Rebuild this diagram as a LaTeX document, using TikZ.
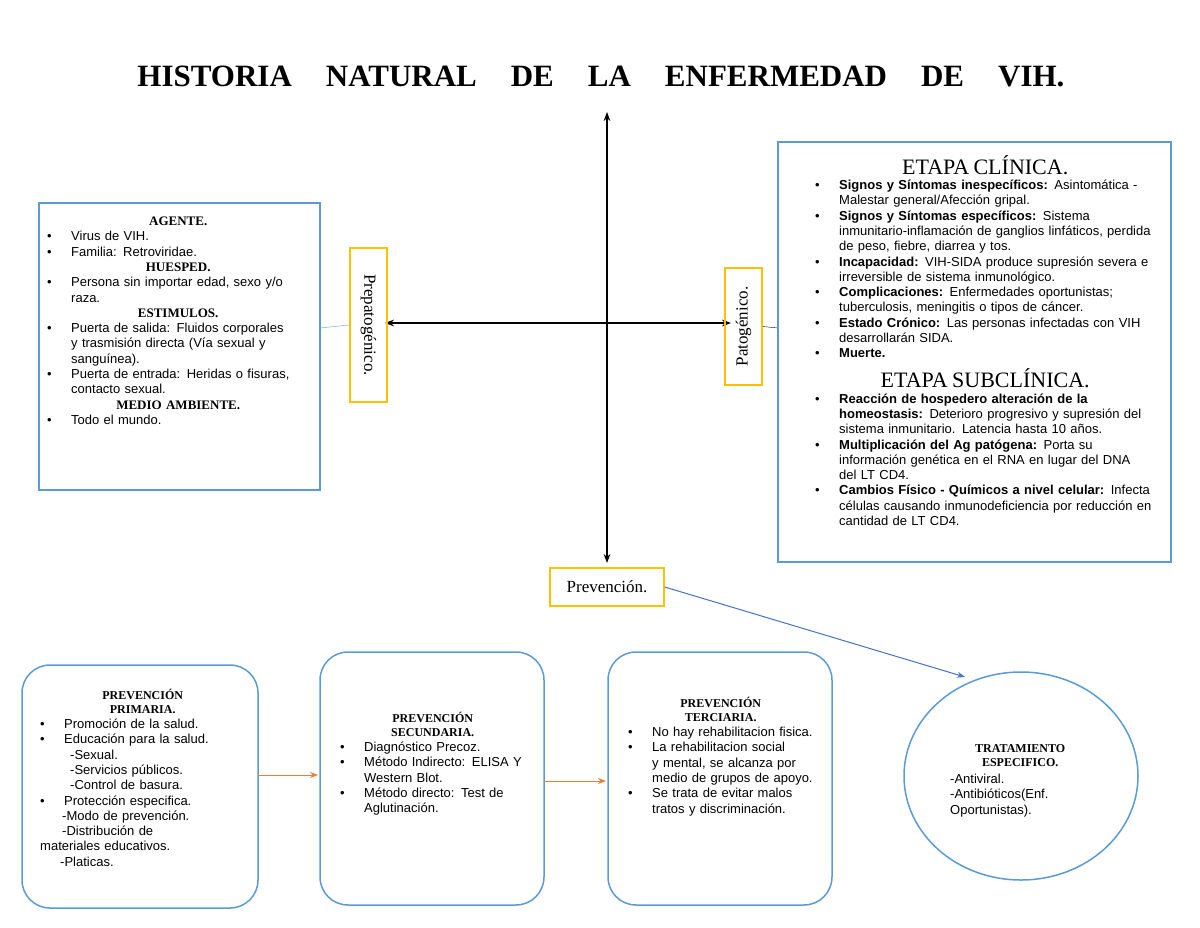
\documentclass[tikz,border=0pt]{standalone}
\usepackage{fontspec}
\setmainfont{Liberation Sans}
\newfontfamily\headfont{Liberation Serif}
\usetikzlibrary{arrows.meta,positioning,shapes.geometric}
\definecolor{boxblue}{RGB}{91,155,213}
\definecolor{boxyellow}{RGB}{255,192,0}
\definecolor{arrblue}{RGB}{68,114,196}
\definecolor{arrorange}{RGB}{237,125,49}
\hyphenpenalty=10000
\newcommand{\bul}[1]{\par\hangindent=24pt\hangafter=1\noindent\makebox[24pt][l]{\textbullet}#1}
\newcommand{\hd}[1]{\par{\centering\headfont\bfseries #1\par}}
\begin{document}
\begin{tikzpicture}[x=1pt,y=-1pt,
  txt/.style={font=\fontsize{13}{15.3}\selectfont,align=left,inner sep=0pt,anchor=north west},
  bluebox/.style={draw=boxblue,line width=1.2pt},
  yelbox/.style={draw=boxyellow,line width=1.5pt,minimum width=37pt,font=\headfont\fontsize{17}{19}\selectfont},
  roundbox/.style={draw=boxblue,line width=1.5pt,rounded corners=28pt}]
\useasboundingbox (0,0) rectangle (1200,927);
% title
\node (title) at (601,76) {\headfont\bfseries\fontsize{31}{33}\selectfont HISTORIA\hspace{34pt}NATURAL\hspace{34pt}DE\hspace{34pt}LA\hspace{34pt}ENFERMEDAD\hspace{34pt}DE\hspace{34pt}VIH.};
% axes
\coordinate (top) at (607,112);
\coordinate (bot) at (607,563);
\coordinate (lft) at (385,323);
\coordinate (rgt) at (731,323);
\draw[{Stealth[length=9pt]}-{Stealth[length=9pt]},line width=1.3pt] (top) -- (bot);
\draw[{Stealth[length=9pt]}-{Stealth[length=9pt]},line width=1.3pt] (lft) -- (rgt);
% left box
\draw[bluebox] (39,203) rectangle (320,490);
\node[txt,text width=262pt] (agente) at (47,210) {%
\hd{AGENTE.}\bul{Virus de VIH.}\bul{Familia: Retroviridae.}%
\hd{HUESPED.}\bul{Persona sin importar edad, sexo y/o raza.}%
\hd{ESTIMULOS.}\bul{Puerta de salida: Fluidos corporales y trasmisión directa (Vía sexual y sanguínea).}\bul{Puerta de entrada: Heridas o fisuras, contacto sexual.}%
\hd{MEDIO AMBIENTE.}\bul{Todo el mundo.}\par};
% side labels
\node[yelbox,minimum height=154pt] (prepa) at (368.5,325) {};
\node[rotate=-90,font=\headfont\fontsize{17}{19}\selectfont] at (prepa) {Prepatogénico.};
\node[yelbox,minimum height=117pt] (pato) at (743.5,326.5) {};
\node[rotate=90,font=\headfont\fontsize{17}{19}\selectfont] at (pato) {Patogénico.};
\draw[boxblue] (320,328) -- (prepa.west);
\draw (pato.east) -- (778,328);
% right box
\draw[bluebox] (778,142) rectangle (1171,562);
\node[txt,text width=340pt] (etapa) at (815,148) {%
\par{\centering\headfont\fontsize{22}{26}\selectfont ETAPA CLÍNICA.\par}
\bul{\textbf{Signos y Síntomas inespecíficos:} Asintomática -Malestar general/Afección gripal.}%
\bul{\textbf{Signos y Síntomas específicos:} Sistema inmunitario-inflamación de ganglios linfáticos, perdida de peso, fiebre, diarrea y tos.}%
\bul{\textbf{Incapacidad:} VIH-SIDA produce supresión severa e irreversible de sistema inmunológico.}%
\bul{\textbf{Complicaciones:} Enfermedades oportunistas; tuberculosis, meningitis o tipos de cáncer.}%
\bul{\textbf{Estado Crónico:} Las personas infectadas con VIH desarrollarán SIDA.}%
\bul{\textbf{Muerte.}}%
\par\vspace{4pt}{\centering\headfont\fontsize{22}{26}\selectfont ETAPA SUBCLÍNICA.\par}
\bul{\textbf{Reacción de hospedero alteración de la homeostasis:} Deterioro progresivo y supresión del sistema inmunitario. Latencia hasta 10 años.}%
\bul{\textbf{Multiplicación del Ag patógena:} Porta su información genética en el RNA en lugar del DNA del LT CD4.}%
\bul{\textbf{Cambios Físico - Químicos a nivel celular:} Infecta células causando inmunodeficiencia por reducción en cantidad de LT CD4.}\par};
% prevencion
\node[yelbox,minimum width=114pt,minimum height=38pt] (prev) at (607,587) {Prevención.};
\node[draw=boxblue,line width=1.5pt,ellipse,minimum width=234pt,minimum height=208pt] (trat) at (1021,776) {};
\draw[-{Stealth[length=8pt]},arrblue,line width=1pt] (prev.east) -- (965,677);
% bottom boxes
\draw[roundbox] (22,665) rectangle (258,908);
\draw[roundbox] (320,652) rectangle (544,905);
\draw[roundbox] (608,652) rectangle (832,905);
\node[txt,text width=205pt] (prim) at (40,685) {%
\hd{\large PREVENCIÓN\\\large PRIMARIA.}%
\bul{Promoción de la salud.}\bul{Educación para la salud.}%
\par\hspace{30pt}-Sexual.\par\hspace{30pt}-Servicios públicos.\par\hspace{30pt}-Control de basura.%
\bul{Protección especifica.}%
\par\hspace{22pt}-Modo de prevención.\par\hspace{22pt}-Distribución de\par\noindent materiales educativos.\par\hspace{20pt}-Platicas.\par};
\node[txt,text width=185pt] (sec) at (340,708) {%
\hd{\large PREVENCIÓN\\\large SECUNDARIA.}%
\bul{Diagnóstico Precoz.}\bul{Método Indirecto: ELISA Y Western Blot.}\bul{Método directo: Test de Aglutinación.}\par};
\node[txt,text width=185pt] (ter) at (628,693) {%
\hd{\large PREVENCIÓN\\\large TERCIARIA.}%
\bul{No hay rehabilitacion fisica.}\bul{La rehabilitacion social y mental, se alcanza por medio de grupos de apoyo.}\bul{Se trata de evitar malos tratos y discriminación.}\par};
\node[txt,text width=140pt] (tratxt) at (950,738) {%
\hd{\large TRATAMIENTO\\\large ESPECIFICO.}%
\par\vspace{2pt}\noindent-Antiviral.\par\noindent-Antibióticos(Enf.\par\noindent Oportunistas).\par};
\draw[-{Stealth[length=8pt]},arrorange,line width=1pt] (258,775) -- (318,775);
\draw[-{Stealth[length=8pt]},arrorange,line width=1pt] (544,781) -- (606,781);
\end{tikzpicture}
\end{document}
